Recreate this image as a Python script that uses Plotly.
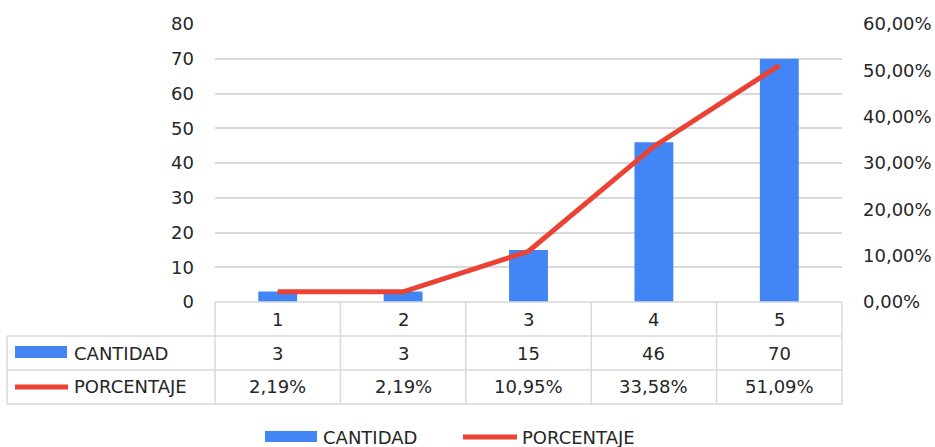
import plotly.graph_objects as go

categories = ["1", "2", "3", "4", "5"]
cantidad = [3, 3, 15, 46, 70]
porcentaje = [0.0219, 0.0219, 0.1095, 0.3358, 0.5109]
series_names = ["CANTIDAD", "PORCENTAJE"]

BLUE = "#4285F4"
RED = "#EA4335"
GRID = "#D9D9D9"
TXT = "#262626"
FONT = "DejaVu Sans"
FS = 18

W, H = 935, 447
L, R, T, B = 215, 842, 24, 302


def px(xp):
    return (xp - L) / (R - L)


def py(yp):
    return (B - yp) / (B - T)


def pct(v):
    return f"{v * 100:.2f}%".replace(".", ",")


fig = go.Figure()
fig.add_trace(go.Bar(x=categories, y=cantidad, name=series_names[0],
                     marker=dict(color=BLUE, line=dict(width=0)), yaxis="y"))
fig.add_trace(go.Scatter(x=categories, y=porcentaje, name=series_names[1],
                         mode="lines", line=dict(color=RED, width=5),
                         yaxis="y2"))

shapes = []
n = len(categories)
for i in range(n + 1):
    shapes.append(dict(type="line", xref="paper", yref="paper",
                       x0=i / n, x1=i / n, y0=py(302), y1=py(404),
                       line=dict(color=GRID, width=1.5)))
shapes.append(dict(type="line", xref="paper", yref="paper",
                   x0=px(7), x1=px(7), y0=py(336), y1=py(404),
                   line=dict(color=GRID, width=1.5)))
for yy in (336, 370, 404):
    shapes.append(dict(type="line", xref="paper", yref="paper",
                       x0=px(7), x1=1, y0=py(yy), y1=py(yy),
                       line=dict(color=GRID, width=1.5)))
shapes.append(dict(type="line", xref="paper", yref="paper",
                   x0=0, x1=1, y0=0, y1=0, line=dict(color=GRID, width=1.5)))
shapes.append(dict(type="rect", xref="paper", yref="paper",
                   x0=px(15), x1=px(67), y0=py(358), y1=py(346),
                   fillcolor=BLUE, line=dict(width=0)))
shapes.append(dict(type="line", xref="paper", yref="paper",
                   x0=px(15), x1=px(68), y0=py(387), y1=py(387),
                   line=dict(color=RED, width=5)))
shapes.append(dict(type="rect", xref="paper", yref="paper",
                   x0=px(265), x1=px(317), y0=py(442), y1=py(431),
                   fillcolor=BLUE, line=dict(width=0)))
shapes.append(dict(type="line", xref="paper", yref="paper",
                   x0=px(463), x1=px(517), y0=py(437), y1=py(437),
                   line=dict(color=RED, width=5)))

annotations = []
font = dict(family=FONT, size=FS, color=TXT)


def ann(x, xref, y, text, xanchor="center"):
    return dict(x=x, xref=xref, y=y, yref="paper", text=text, showarrow=False,
                xanchor=xanchor, yanchor="middle", font=font)


for i, (c, q, p) in enumerate(zip(categories, cantidad, porcentaje)):
    xc = (i + 0.5) / n
    annotations.append(ann(xc, "paper", py(319), c))
    annotations.append(ann(xc, "paper", py(353), str(q)))
    annotations.append(ann(xc, "paper", py(387), pct(p)))
annotations.append(ann(px(72), "paper", py(353), series_names[0], "left"))
annotations.append(ann(px(72), "paper", py(387), series_names[1], "left"))
annotations.append(ann(px(321), "paper", py(437), series_names[0], "left"))
annotations.append(ann(px(520), "paper", py(437), series_names[1], "left"))

fig.update_layout(
    width=W, height=H,
    margin=dict(l=L, r=W - R, t=T, b=H - B, pad=0, autoexpand=False),
    paper_bgcolor="white", plot_bgcolor="white",
    separators=",.",
    showlegend=False,
    bargap=0.69,
    font=font,
    xaxis=dict(type="category", range=[-0.5, n - 0.5], showticklabels=False,
               showgrid=False, zeroline=False, showline=False, ticks="",
               automargin=False),
    yaxis=dict(range=[0, 80], dtick=10, showgrid=True, gridcolor=GRID, gridwidth=1.5,
               zeroline=False, showline=False, ticks="", ticklabelstandoff=20,
               tickfont=font, automargin=False),
    yaxis2=dict(range=[0, 0.6], dtick=0.1, tickformat=".2%", overlaying="y",
                side="right", showgrid=False, zeroline=False, showline=False,
                ticks="", ticklabelstandoff=20, tickfont=font, automargin=False),
    shapes=shapes,
    annotations=annotations,
)

fig.write_html("out.html", config={"displayModeBar": False},
               post_script="document.body.style.margin='0';document.body.style.overflow='hidden';")
